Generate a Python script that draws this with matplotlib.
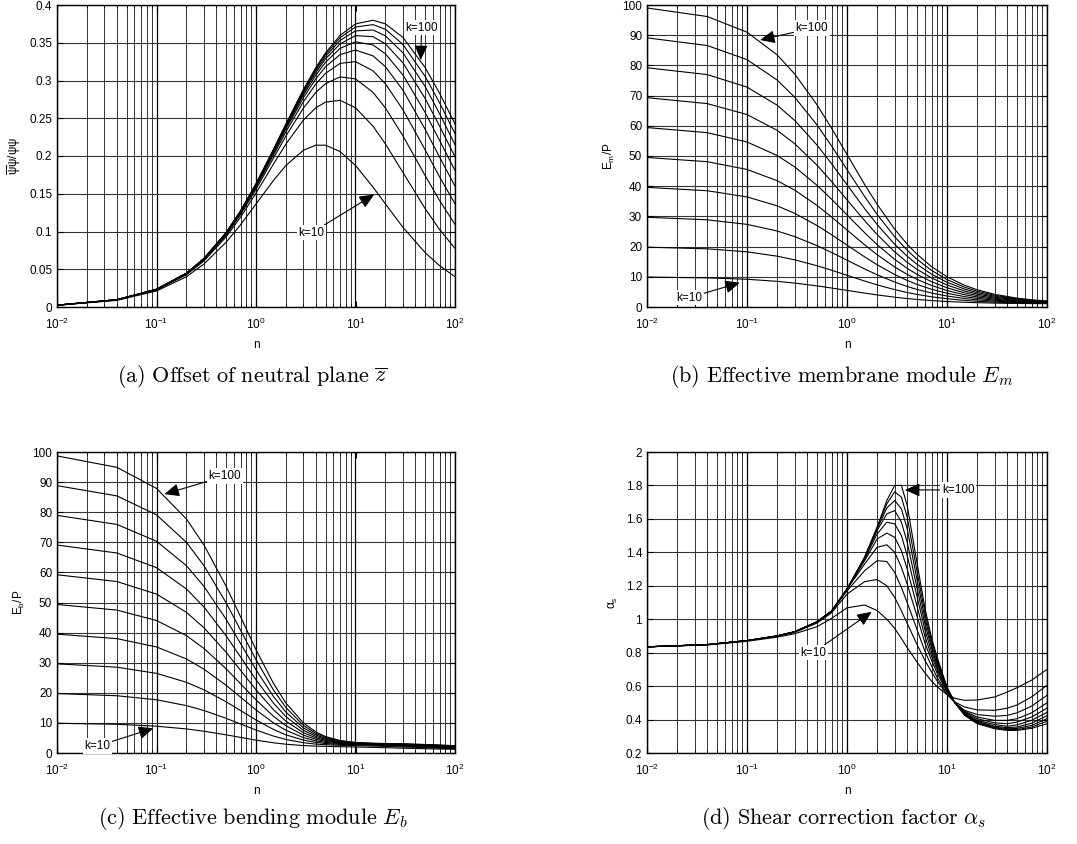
import matplotlib
matplotlib.use('Agg')
import matplotlib.pyplot as plt
from matplotlib.ticker import LogLocator, FormatStrFormatter, MultipleLocator, NullFormatter

plt.rcParams['font.family'] = ['Liberation Sans', 'DejaVu Sans']
plt.rcParams['mathtext.fontset'] = 'custom'
plt.rcParams['mathtext.rm'] = 'Liberation Sans'
plt.rcParams['mathtext.it'] = 'Liberation Sans:italic'
plt.rcParams['mathtext.default'] = 'regular'

# power-law index k of each curve
k_values = [10, 20, 30, 40, 50, 60, 70, 80, 90, 100]

# n samples for panels (a), (b), (c)
n_abc = [0.01, 0.04, 0.1, 0.2, 0.3, 0.5, 0.7, 1, 1.5, 2, 3, 4, 5, 7, 10, 15, 20, 30, 50, 70, 100]

# (a) offset of neutral plane, one row per k
zbar = [
    [.00224, .00879, .02122, .04011, .05699, .0857, .1090, .1364, .1677, .1875, .2077, .2143, .2143, .2059, .1875, .1588, .1364, .1055, .0721, .0547, .0401],
    [.00236, .00930, .02251, .04275, .06104, .0927, .1190, .1508, .1894, .2159, .2478, .2639, .2714, .2737, .2639, .2395, .2159, .1781, .1305, .1026, .0776],
    [.00240, .00946, .02294, .04365, .06242, .0951, .1225, .1559, .1973, .2266, .2636, .2843, .2959, .3048, .3021, .2843, .2636, .2266, .1743, .1410, .1094],
    [.00243, .00955, .02316, .04410, .06311, .0963, .1242, .1585, .2014, .2321, .2721, .2955, .3095, .3227, .3250, .3128, .2955, .2612, .2083, .1723, .1366],
    [.00244, .00960, .02329, .04437, .06353, .0970, .1253, .1601, .2039, .2356, .2774, .3025, .3182, .3343, .3403, .3326, .3182, .2871, .2356, .1985, .1601],
    [.00245, .00963, .02337, .04455, .06381, .0975, .1260, .1612, .2056, .2379, .2810, .3073, .3242, .3425, .3512, .3471, .3352, .3073, .2579, .2206, .1808],
    [.00245, .00966, .02344, .04468, .06401, .0979, .1265, .1620, .2068, .2396, .2836, .3108, .3286, .3485, .3594, .3581, .3485, .3234, .2764, .2396, .1990],
    [.00246, .00968, .02348, .04477, .06416, .0981, .1269, .1626, .2077, .2409, .2855, .3135, .3319, .3531, .3657, .3669, .3591, .3366, .2922, .2560, .2151],
    [.00246, .00969, .02352, .04485, .06428, .0983, .1272, .1630, .2084, .2418, .2871, .3156, .3346, .3568, .3708, .3740, .3678, .3477, .3056, .2704, .2296],
    [.00246, .00970, .02355, .04491, .06437, .0985, .1274, .1634, .2090, .2426, .2883, .3173, .3367, .3598, .3750, .3798, .3750, .3570, .3173, .2831, .2426],
]

# (b) effective membrane module Em/P
em = [
    [9.91, 9.65, 9.18, 8.5, 7.92, 7.0, 6.29, 5.5, 4.6, 4.0, 3.25, 2.8, 2.5, 2.125, 1.82, 1.5625, 1.43, 1.29, 1.18, 1.127, 1.09],
    [19.81, 19.27, 18.27, 16.83, 15.62, 13.67, 12.18, 10.5, 8.6, 7.33, 5.75, 4.8, 4.17, 3.375, 2.73, 2.1875, 1.90, 1.61, 1.37, 1.268, 1.19],
    [29.71, 28.88, 27.36, 25.17, 23.31, 20.33, 18.06, 15.5, 12.6, 10.67, 8.25, 6.8, 5.83, 4.625, 3.64, 2.8125, 2.38, 1.94, 1.57, 1.408, 1.29],
    [39.61, 38.5, 36.45, 33.5, 31.0, 27.0, 23.94, 20.5, 16.6, 14.0, 10.75, 8.8, 7.5, 5.875, 4.55, 3.4375, 2.86, 2.26, 1.76, 1.549, 1.39],
    [49.51, 48.12, 45.55, 41.83, 38.69, 33.67, 29.82, 25.5, 20.6, 17.33, 13.25, 10.8, 9.17, 7.125, 5.45, 4.0625, 3.33, 2.58, 1.96, 1.690, 1.49],
    [59.42, 57.73, 54.64, 50.17, 46.38, 40.33, 35.71, 30.5, 24.6, 20.67, 15.75, 12.8, 10.83, 8.375, 6.36, 4.6875, 3.81, 2.90, 2.16, 1.831, 1.58],
    [69.32, 67.35, 63.73, 58.5, 54.08, 47.0, 41.59, 35.5, 28.6, 24.0, 18.25, 14.8, 12.5, 9.625, 7.27, 5.3125, 4.29, 3.23, 2.35, 1.972, 1.68],
    [79.22, 76.96, 72.82, 66.83, 61.77, 53.67, 47.47, 40.5, 32.6, 27.33, 20.75, 16.8, 14.17, 10.875, 8.18, 5.9375, 4.76, 3.55, 2.55, 2.113, 1.78],
    [89.12, 86.58, 81.91, 75.17, 69.46, 60.33, 53.35, 45.5, 36.6, 30.67, 23.25, 18.8, 15.83, 12.125, 9.09, 6.5625, 5.24, 3.87, 2.75, 2.254, 1.88],
    [99.02, 96.19, 91.0, 83.5, 77.15, 67.0, 59.24, 50.5, 40.6, 34.0, 25.75, 20.8, 17.5, 13.375, 10.0, 7.1875, 5.71, 4.19, 2.94, 2.394, 1.98],
]

# (c) effective bending module Eb/P
eb = [
    [9.881, 9.538, 8.906, 7.995, 7.231, 6.040, 5.174, 4.273, 3.390, 2.913, 2.468, 2.286, 2.194, 2.094, 1.995, 1.862, 1.754, 1.597, 1.417, 1.319, 1.236],
    [19.75, 19.023, 17.684, 15.744, 14.109, 11.534, 9.638, 7.635, 5.623, 4.498, 3.412, 2.960, 2.745, 2.559, 2.441, 2.312, 2.198, 2.009, 1.754, 1.599, 1.457],
    [29.62, 28.508, 26.462, 23.493, 20.983, 17.023, 14.093, 10.979, 7.820, 6.030, 4.269, 3.518, 3.156, 2.852, 2.696, 2.572, 2.469, 2.285, 2.008, 1.823, 1.644],
    [39.49, 37.994, 35.240, 31.241, 27.858, 22.510, 18.544, 14.317, 10.008, 7.546, 5.100, 4.039, 3.521, 3.084, 2.875, 2.746, 2.654, 2.483, 2.205, 2.007, 1.804],
    [49.35, 47.479, 44.018, 38.989, 34.732, 27.996, 22.995, 17.654, 12.191, 9.057, 5.919, 4.543, 3.864, 3.286, 3.016, 2.874, 2.788, 2.633, 2.363, 2.159, 1.942],
    [59.22, 56.964, 52.796, 46.737, 41.607, 33.483, 27.445, 20.989, 14.372, 10.564, 6.731, 5.039, 4.195, 3.472, 3.134, 2.973, 2.892, 2.750, 2.493, 2.289, 2.064],
    [69.09, 66.449, 61.573, 54.485, 48.481, 38.969, 31.894, 24.324, 16.553, 12.069, 7.541, 5.529, 4.521, 3.648, 3.239, 3.055, 2.975, 2.844, 2.601, 2.400, 2.171],
    [78.96, 75.934, 70.351, 62.233, 55.355, 44.455, 36.344, 27.658, 18.732, 13.573, 8.348, 6.016, 4.841, 3.818, 3.336, 3.124, 3.044, 2.922, 2.692, 2.496, 2.266],
    [88.83, 85.42, 79.128, 69.981, 62.229, 49.941, 40.793, 30.993, 20.910, 15.076, 9.154, 6.500, 5.159, 3.984, 3.425, 3.185, 3.102, 2.987, 2.771, 2.580, 2.352],
    [98.70, 94.90, 87.907, 77.729, 69.103, 55.427, 45.242, 34.327, 23.088, 16.578, 9.958, 6.983, 5.474, 4.146, 3.510, 3.239, 3.152, 3.043, 2.839, 2.654, 2.428],
]

# (d) shear correction factor, own n samples
n_d = [0.01, 0.04, 0.1, 0.2, 0.3, 0.5, 0.7, 1, 1.5, 2, 2.5, 3, 3.5, 4, 5, 6, 7, 8, 10, 12, 15, 20, 30, 40, 50, 70, 100]
alpha_s = [
    [.835, .846, .868, .893, .913, .955, 1.005, 1.068, 1.085, 1.052, 1.0, .945, .885, .83, .745, .68, .63, .595, .55, .527, .515, .517, .535, .565, .59, .635, .70],
    [.835, .848, .871, .898, .921, .977, 1.038, 1.15, 1.225, 1.237, 1.20, 1.13, 1.05, .975, .85, .755, .685, .63, .55, .505, .475, .458, .455, .468, .487, .535, .605],
    [.835, .848, .872, .900, .924, .982, 1.045, 1.17, 1.29, 1.35, 1.345, 1.28, 1.19, 1.10, .94, .81, .72, .65, .555, .50, .455, .43, .42, .425, .44, .48, .545],
    [.835, .848, .872, .900, .925, .984, 1.048, 1.18, 1.33, 1.43, 1.445, 1.40, 1.31, 1.21, 1.02, .86, .755, .675, .565, .50, .45, .415, .395, .395, .405, .44, .50],
    [.835, .848, .872, .900, .925, .984, 1.048, 1.18, 1.35, 1.48, 1.515, 1.49, 1.41, 1.30, 1.08, .90, .78, .695, .57, .50, .445, .405, .38, .375, .385, .415, .468],
    [.835, .848, .872, .900, .925, .984, 1.048, 1.18, 1.36, 1.51, 1.58, 1.57, 1.50, 1.38, 1.14, .94, .805, .71, .575, .50, .44, .395, .37, .36, .368, .395, .443],
    [.835, .848, .872, .900, .925, .984, 1.048, 1.18, 1.365, 1.53, 1.63, 1.65, 1.58, 1.46, 1.19, .975, .83, .725, .58, .50, .435, .39, .36, .352, .355, .378, .423],
    [.835, .848, .872, .900, .925, .984, 1.048, 1.18, 1.368, 1.54, 1.665, 1.71, 1.66, 1.54, 1.24, 1.01, .85, .74, .585, .50, .43, .385, .355, .345, .347, .365, .405],
    [.835, .848, .872, .900, .925, .984, 1.048, 1.18, 1.37, 1.548, 1.69, 1.762, 1.73, 1.61, 1.29, 1.04, .87, .755, .59, .50, .43, .38, .35, .34, .34, .355, .39],
    [.835, .848, .872, .900, .925, .984, 1.048, 1.18, 1.37, 1.55, 1.71, 1.80, 1.80, 1.68, 1.34, 1.07, .89, .77, .595, .50, .425, .375, .345, .335, .335, .347, .375],
]

W, H = 1077, 844
fig = plt.figure(figsize=(W / 100, H / 100), dpi=100)


def make_axes(left, top, right, bottom):
    return fig.add_axes([left / W, 1 - bottom / H, (right - left) / W, (bottom - top) / H])


def style(ax, ylim, ystep, ylabel):
    ax.set_xscale('log')
    ax.set_xlim(0.01, 100)
    ax.set_ylim(*ylim)
    ax.yaxis.set_major_locator(MultipleLocator(ystep))
    ax.yaxis.set_major_formatter(FormatStrFormatter('%g'))
    ax.xaxis.set_major_locator(LogLocator(base=10, numticks=10))
    ax.xaxis.set_minor_locator(LogLocator(base=10, subs=range(2, 10), numticks=20))
    ax.xaxis.set_minor_formatter(NullFormatter())
    ax.set_axisbelow(True)
    ax.grid(True, which='minor', axis='x', color='0.2', lw=0.7)
    ax.grid(True, which='major', axis='x', color='k', lw=0.9)
    ax.grid(True, which='major', axis='y', color='0.2', lw=0.8)
    ax.tick_params(which='both', direction='in', top=True, right=True, labelsize=8.5, colors='k')
    ax.tick_params(which='major', length=4)
    ax.tick_params(which='minor', length=2)
    ax.tick_params(axis='x', which='major', pad=7)
    for s in ax.spines.values():
        s.set_linewidth(1.0)
    ax.set_xlabel('n', fontsize=8.5, labelpad=5)
    ax.set_ylabel(ylabel, fontsize=8.5, labelpad=4)


def curves(ax, n, table):
    for row in table:
        ax.plot(n, row, color='k', lw=0.8)


def label(ax, txt, tip, at):
    ax.annotate(txt, xy=tip, xytext=at, ha='center', va='center', fontsize=8.5,
                bbox=dict(boxstyle='square,pad=0.15', fc='w', ec='none'),
                arrowprops=dict(arrowstyle='-|>,head_length=0.5,head_width=0.22', color='k', lw=0.8,
                                mutation_scale=18, shrinkA=0, shrinkB=0))


# (a)
ax = make_axes(57, 5, 455, 307)
curves(ax, n_abc, zbar)
style(ax, (0, 0.4), 0.05, r'$\overline{\psi}\psi/\psi\psi$')
label(ax, 'k=100', (45.2, 0.327), (46.2, 0.370))
label(ax, 'k=10', (15.4, 0.149), (3.63, 0.0984))

# (b)
ax = make_axes(647, 5, 1047, 307)
curves(ax, n_abc, em)
style(ax, (0, 100), 10, r'E$_{m}$/P')
label(ax, 'k=100', (0.135, 88.4), (0.443, 92.3))
label(ax, 'k=10', (0.085, 8.05), (0.0265, 3.1))

# (c)
ax = make_axes(57, 452, 455, 753)
curves(ax, n_abc, eb)
style(ax, (0, 100), 10, r'E$_{b}$/P')
label(ax, 'k=100', (0.12, 86.0), (0.487, 92.0))
label(ax, 'k=10', (0.093, 8.2), (0.0254, 2.3))

# (d)
ax = make_axes(647, 452, 1047, 753)
curves(ax, n_d, alpha_s)
style(ax, (0.2, 2.0), 0.2, r'$\alpha_{s}$')
label(ax, 'k=100', (3.8, 1.773), (13.0, 1.773))
label(ax, 'k=10', (1.77, 1.045), (0.46, 0.80))

captions = [
    (251.7, 377, r'$\mathrm{(a)\ Offset\ of\ neutral\ plane}\ \overline{\mathit{z}}$'),
    (841.7, 377, r'$\mathrm{(b)\ Effective\ membrane\ module}\ \mathit{E}_{\mathit{m}}$'),
    (253.0, 818, r'$\mathrm{(c)\ Effective\ bending\ module}\ \mathit{E}_{\mathit{b}}$'),
    (843.3, 818, r'$\mathrm{(d)\ Shear\ correction\ factor}\ \mathit{\alpha}_{\mathit{s}}$'),
]
for x, y, txt in captions:
    fig.text(x / W, 1 - y / H, txt, ha='center', va='center', fontsize=16, math_fontfamily='cm')

fig.savefig('out.png', dpi=100)
